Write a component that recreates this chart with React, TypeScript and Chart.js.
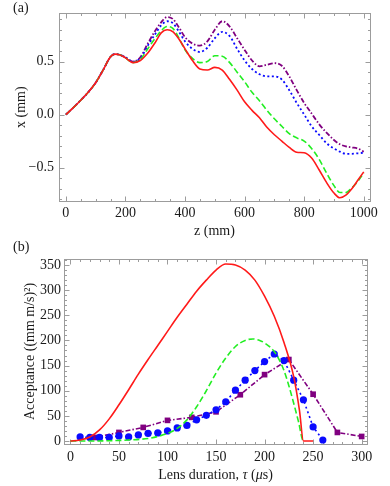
import React, { useEffect, useRef } from "react";
import { Chart, registerables } from "chart.js";
Chart.register(...registerables);

const FONT = "'Liberation Serif', 'Times New Roman', serif";
const TEXT = "#1a1a1a";

// ---------- Panel (a): x (mm) vs z (mm) ----------
const zGrid = [0, 25, 50, 75, 100, 125, 150, 165, 180, 200, 225, 250, 275, 300, 320, 340, 360, 380, 400, 425, 450, 475, 500, 525, 550, 575, 600, 625, 650, 675, 700, 725, 750, 775, 800, 825, 850, 875, 900, 920, 940, 960, 980, 1000];
const xShared = [0, 0.065, 0.135, 0.21, 0.3, 0.42, 0.545, 0.57, 0.565, 0.535, 0.49];
const xShared2 = [0, 0.065, 0.135, 0.21, 0.3, 0.42, 0.545, 0.57, 0.565, 0.54, 0.5];
const xRedTail = [0.51, 0.58, 0.68, 0.77, 0.8, 0.78, 0.71, 0.62, 0.51, 0.43, 0.42, 0.445, 0.42, 0.33, 0.23, 0.12, 0.04, -0.03, -0.12, -0.19, -0.25, -0.31, -0.355, -0.36, -0.41, -0.52, -0.64, -0.74, -0.785, -0.76, -0.7, -0.62, -0.54];
const xGreenTail = [0.52, 0.62, 0.72, 0.79, 0.83, 0.81, 0.72, 0.61, 0.53, 0.49, 0.5, 0.555, 0.55, 0.49, 0.4, 0.31, 0.21, 0.13, 0.04, -0.04, -0.11, -0.18, -0.22, -0.25, -0.32, -0.42, -0.55, -0.67, -0.735, -0.735, -0.69, -0.63, -0.55];
const xBlueTail = [0.53, 0.65, 0.76, 0.84, 0.88, 0.86, 0.78, 0.69, 0.62, 0.59, 0.63, 0.72, 0.78, 0.74, 0.62, 0.51, 0.43, 0.38, 0.36, 0.36, 0.33, 0.23, 0.11, 0.0, -0.11, -0.19, -0.27, -0.32, -0.35, -0.37, -0.37, -0.365, -0.36];
const xPurpleTail = [0.54, 0.67, 0.79, 0.87, 0.92, 0.9, 0.82, 0.73, 0.67, 0.65, 0.69, 0.8, 0.88, 0.83, 0.72, 0.61, 0.51, 0.455, 0.47, 0.485, 0.46, 0.36, 0.23, 0.11, 0.01, -0.09, -0.17, -0.24, -0.28, -0.3, -0.31, -0.32, -0.35];
const xRed = [...xShared, ...xRedTail];
const xGreen = [...xShared, ...xGreenTail];
const xBlue = [...xShared2, ...xBlueTail];
const xPurple = [...xShared2, ...xPurpleTail];
const zTicks = [0, 200, 400, 600, 800, 1000];
const xTicks = [-0.5, 0, 0.5];

// ---------- Panel (b): Acceptance vs lens duration ----------
const tauRed = [0, 10, 20, 30, 40, 50, 60, 70, 80, 90, 100, 110, 120, 130, 140, 150, 160, 170, 180, 190, 200, 210, 220, 230, 236, 240, 250];
const accRed = [0, 2, 8, 22, 44, 72, 102, 133, 162, 190, 218, 246, 272, 298, 320, 340, 352, 350, 340, 320, 288, 248, 196, 128, 60, 0, 0];
const tauGreen = [0, 20, 40, 60, 80, 90, 100, 110, 120, 130, 140, 150, 160, 170, 180, 188, 195, 200, 210, 215, 220, 225, 230, 235, 240, 241];
const accGreen = [0, 0, 0.5, 2, 5, 9, 15, 25, 42, 68, 100, 135, 165, 188, 200, 203, 200, 195, 178, 162, 140, 110, 75, 38, 0, 0];
const tauBlue = [10, 20, 30, 40, 50, 60, 70, 80, 90, 100, 110, 120, 130, 140, 150, 160, 170, 180, 190, 200, 210, 220, 230, 240, 250, 260];
const accBlue = [8, 7, 7, 7, 10, 8, 12, 15, 16, 20, 26, 31, 42, 51, 62, 78, 101, 121, 140, 158, 173, 160, 121, 82, 28, 2];
const tauPurple = [25, 50, 75, 100, 125, 150, 175, 200, 225, 250, 275, 300];
const accPurple = [7, 17, 27, 41, 47, 58, 92, 132, 162, 93, 17, 9];
const tauTicks = [0, 50, 100, 150, 200, 250, 300];
const accTicks = [0, 50, 100, 150, 200, 250, 300, 350];

const RED = "#ff1a1a";
const GREEN = "#22ee22";
const BLUE = "#0a0aff";
const PURPLE = "#800080";

function pts(xs: number[], ys: number[]) {
  return xs.map((x, i) => ({ x, y: ys[i] }));
}

type FrameCfg = { xMajor: number; xMinor: number; yMajor: number; yMinor: number };

function framePlugin(cfg: FrameCfg) {
  return {
    id: "frameTicks",
    beforeDatasetsDraw(chart: any) {
      const { ctx, chartArea: a, scales } = chart;
      const xs = scales.x;
      const ys = scales.y;
      const L = Math.round(a.left) + 0.5;
      const R = Math.round(a.right) + 0.5;
      const T = Math.round(a.top) + 0.5;
      const B = Math.round(a.bottom) + 0.5;
      ctx.save();
      ctx.strokeStyle = "#9c9c9c";
      ctx.lineWidth = 1;
      ctx.strokeRect(L, T, R - L, B - T);
      ctx.beginPath();
      const isMajor = (v: number, m: number) => Math.abs(v / m - Math.round(v / m)) < 1e-6;
      const x0 = Math.ceil(xs.min / cfg.xMinor - 1e-9);
      for (let i = x0; i * cfg.xMinor <= xs.max + 1e-9; i++) {
        const v = i * cfg.xMinor;
        const p = Math.round(xs.getPixelForValue(v)) + 0.5;
        const len = isMajor(v, cfg.xMajor) ? 5 : 2.5;
        ctx.moveTo(p, B);
        ctx.lineTo(p, B - len);
        ctx.moveTo(p, T);
        ctx.lineTo(p, T + len);
      }
      const y0 = Math.ceil(ys.min / cfg.yMinor - 1e-9);
      for (let i = y0; i * cfg.yMinor <= ys.max + 1e-9; i++) {
        const v = i * cfg.yMinor;
        const p = Math.round(ys.getPixelForValue(v)) + 0.5;
        const len = isMajor(v, cfg.yMajor) ? 5 : 2.5;
        ctx.moveTo(L, p);
        ctx.lineTo(L + len, p);
        ctx.moveTo(R, p);
        ctx.lineTo(R - len, p);
      }
      ctx.stroke();
      ctx.restore();
    },
  };
}

// Mixed roman/italic x-axis title for panel (b)
const titleBParts: [string, boolean][] = [
  ["Lens duration, ", false],
  ["\u03c4", true],
  [" (", false],
  ["\u03bc", true],
  ["s)", false],
];

const mixedTitlePlugin = {
  id: "mixedTitle",
  afterDraw(chart: any) {
    const { ctx, chartArea: a } = chart;
    ctx.save();
    ctx.fillStyle = TEXT;
    ctx.textBaseline = "middle";
    ctx.textAlign = "left";
    const fontOf = (it: boolean) => `${it ? "italic " : ""}14px ${FONT}`;
    let total = 0;
    for (const [t, it] of titleBParts) {
      ctx.font = fontOf(it);
      total += ctx.measureText(t).width;
    }
    let x = (a.left + a.right) / 2 - total / 2;
    const y = chart.height - 11;
    for (const [t, it] of titleBParts) {
      ctx.font = fontOf(it);
      ctx.fillText(t, x, y);
      x += ctx.measureText(t).width;
    }
    ctx.restore();
  },
};

function axis(opts: any) {
  const { min, max, ticks, size, title, titlePad, tickPad, horizontal, fmt, showTitle = true } = opts;
  return {
    type: "linear",
    min,
    max,
    grid: { display: false, drawTicks: false },
    border: { display: false },
    afterBuildTicks: (s: any) => {
      s.ticks = ticks.map((v: number) => ({ value: v }));
    },
    afterFit: (s: any) => {
      if (horizontal) s.height = size;
      else s.width = size;
    },
    ticks: {
      font: { family: FONT, size: 14 },
      color: TEXT,
      padding: tickPad,
      maxRotation: 0,
      autoSkip: false,
      callback: fmt,
    },
    title: {
      display: showTitle,
      text: title,
      font: { family: FONT, size: 14 },
      color: TEXT,
      padding: titlePad,
    },
  };
}

const fmtA = (v: number) => (v < 0 ? "\u2212" + Math.abs(v).toFixed(1) : v.toFixed(1));
const fmtInt = (v: number) => String(v);

export default function App() {
  const refA = useRef<HTMLCanvasElement | null>(null);
  const refB = useRef<HTMLCanvasElement | null>(null);

  useEffect(() => {
    const lineBase = { pointRadius: 0, borderWidth: 1.6, fill: false, cubicInterpolationMode: "monotone" };
    const chartA = new Chart(refA.current as HTMLCanvasElement, {
      type: "line",
      data: {
        datasets: [
          { ...lineBase, data: pts(zGrid, xRed), borderColor: RED, order: 1 },
          { ...lineBase, data: pts(zGrid, xGreen), borderColor: GREEN, borderDash: [6, 3], order: 2 },
          { ...lineBase, data: pts(zGrid, xBlue), borderColor: BLUE, borderDash: [2, 2.5], borderWidth: 1.8, order: 3 },
          { ...lineBase, data: pts(zGrid, xPurple), borderColor: PURPLE, borderDash: [5, 2, 1.5, 2], borderWidth: 1.8, order: 4 },
        ],
      } as any,
      options: {
        animation: false,
        responsive: false,
        maintainAspectRatio: false,
        layout: { padding: { left: 0, right: 20, top: 10, bottom: 0 } },
        plugins: { legend: { display: false }, tooltip: { enabled: false } },
        scales: {
          x: axis({ min: -23, max: 1021, ticks: zTicks, size: 39, title: "z (mm)", titlePad: { top: 0, bottom: 0 }, tickPad: 4, horizontal: true, fmt: fmtInt }),
          y: axis({ min: -0.815, max: 0.954, ticks: xTicks, size: 59, title: "x (mm)", titlePad: { top: 13, bottom: 0 }, tickPad: 5, horizontal: false, fmt: fmtA }),
        },
      } as any,
      plugins: [framePlugin({ xMajor: 200, xMinor: 50, yMajor: 0.5, yMinor: 0.1 })],
    });

    const chartB = new Chart(refB.current as HTMLCanvasElement, {
      type: "line",
      data: {
        datasets: [
          { data: pts(tauRed, accRed), borderColor: RED, borderWidth: 1.6, pointRadius: 0, fill: false, cubicInterpolationMode: "monotone", order: 1 },
          { data: pts(tauGreen, accGreen), borderColor: GREEN, borderWidth: 1.6, borderDash: [6, 3], pointRadius: 0, fill: false, cubicInterpolationMode: "monotone", order: 2 },
          { data: pts(tauBlue, accBlue), borderColor: BLUE, borderWidth: 1.6, borderDash: [2, 3], pointRadius: 3.6, pointStyle: "circle", pointBackgroundColor: BLUE, pointBorderWidth: 0, fill: false, tension: 0, order: 3 },
          { data: pts(tauPurple, accPurple), borderColor: PURPLE, borderWidth: 1.6, borderDash: [5, 2, 1.5, 2], pointRadius: 4, pointStyle: "rect", pointBackgroundColor: PURPLE, pointBorderWidth: 0, fill: false, tension: 0, order: 4 },
        ],
      } as any,
      options: {
        animation: false,
        responsive: false,
        maintainAspectRatio: false,
        layout: { padding: { left: 0, right: 23, top: 19, bottom: 0 } },
        plugins: { legend: { display: false }, tooltip: { enabled: false } },
        scales: {
          x: axis({ min: -6.6, max: 305.5, ticks: tauTicks, size: 42, title: "Lens duration, \u03c4 (\u03bcs)", titlePad: { top: 0, bottom: 3 }, tickPad: 5, horizontal: true, fmt: fmtInt, showTitle: false }),
          y: axis({ min: -6, max: 362, ticks: accTicks, size: 64, title: "Acceptance ((mm m/s)\u00b2)", titlePad: { top: 22, bottom: 0 }, tickPad: 3, horizontal: false, fmt: fmtInt }),
        },
      } as any,
      plugins: [framePlugin({ xMajor: 50, xMinor: 10, yMajor: 50, yMinor: 10 }), mixedTitlePlugin],
    });

    return () => {
      chartA.destroy();
      chartB.destroy();
    };
  }, []);

  const label: React.CSSProperties = {
    position: "absolute",
    left: 13,
    fontFamily: FONT,
    fontSize: 14,
    lineHeight: "16px",
    color: TEXT,
  };

  return (
    <div style={{ position: "absolute", left: 0, top: 0, width: 390, height: 486, background: "#fff" }}>
      <canvas ref={refA} width={390} height={240} style={{ position: "absolute", left: 0, top: 0, width: 390, height: 240 }} />
      <canvas ref={refB} width={390} height={246} style={{ position: "absolute", left: 0, top: 240, width: 390, height: 246 }} />
      <div style={{ ...label, top: 0 }}>(a)</div>
      <div style={{ ...label, top: 239 }}>(b)</div>
    </div>
  );
}
